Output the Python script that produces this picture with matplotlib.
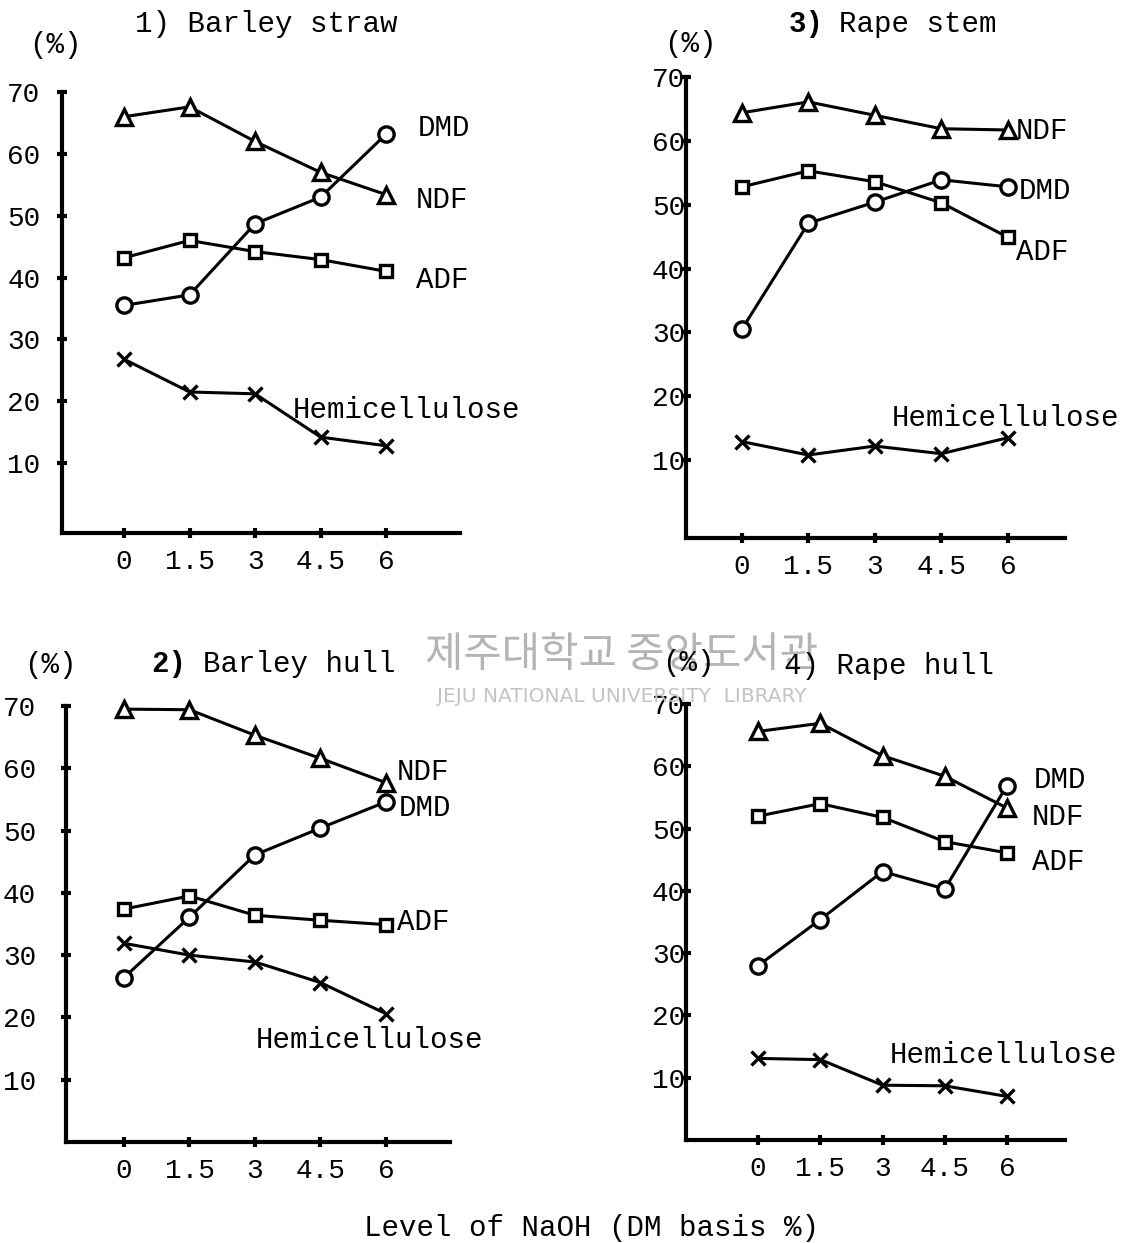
import matplotlib
matplotlib.use("Agg")
import matplotlib.pyplot as plt

# NaOH levels (DM basis %)
naoh = [0, 1.5, 3, 4.5, 6]
naoh_labels = ['0', '1.5', '3', '4.5', '6']
y_ticks = [10, 20, 30, 40, 50, 60, 70]

# 1) Barley straw
bs_ndf = [66, 67.6, 62, 57, 53.4]
bs_dmd = [35.5, 37.2, 48.7, 53, 63.2]
bs_adf = [43.2, 46, 44.2, 42.9, 41]
bs_hemi = [26.8, 21.5, 21.2, 14.2, 12.8]

# 3) Rape stem
rs_ndf = [64.4, 66.1, 64, 61.9, 61.7]
rs_dmd = [30.5, 47.1, 50.4, 53.9, 52.8]
rs_adf = [52.8, 55.3, 53.6, 50.3, 44.9]
rs_hemi = [12.9, 10.8, 12.2, 11, 13.5]

# 2) Barley hull
bh_ndf = [69.5, 69.4, 65.3, 61.6, 57.7]
bh_dmd = [26.4, 36.1, 46.1, 50.4, 54.6]
bh_adf = [37.4, 39.5, 36.4, 35.6, 34.9]
bh_hemi = [31.9, 30, 28.9, 25.6, 20.6]

# 4) Rape hull
rh_ndf = [65.6, 66.9, 61.7, 58.4, 53.3]
rh_dmd = [28, 35.4, 43.1, 40.3, 56.9]
rh_adf = [52, 54, 51.8, 47.9, 46.1]
rh_hemi = [13.1, 12.9, 8.8, 8.7, 7]

W, H = 1128, 1243
FONT = 'Liberation Mono'
FS = 21

fig = plt.figure(figsize=(W / 100, H / 100), dpi=100)
fig.patch.set_facecolor('white')


def px_axes(left, right, top, bottom):
    return fig.add_axes([left / W, 1 - bottom / H, (right - left) / W, (bottom - top) / H])


def ftext(x, y, s, **kw):
    kw.setdefault('fontsize', FS)
    kw.setdefault('family', FONT)
    kw.setdefault('va', 'center')
    fig.text(x / W, 1 - y / H, s, **kw)


def panel(ax, ndf, dmd, adf, hemi, xlim, ylim, ypad):
    st = dict(color='black', lw=2.2, markeredgewidth=2.4,
              markerfacecolor='white', markeredgecolor='black', clip_on=False)
    ax.plot(naoh, ndf, marker='^', markersize=11, **st)
    ax.plot(naoh, adf, marker='s', markersize=9, **st)
    ax.plot(naoh, dmd, marker='o', markersize=11, **st)
    ax.plot(naoh, hemi, marker='x', markersize=10, **st)
    ax.set_xlim(*xlim)
    ax.set_ylim(*ylim)
    ax.set_xticks(naoh)
    ax.set_xticklabels(naoh_labels)
    ax.set_yticks(y_ticks)
    ax.spines['top'].set_visible(False)
    ax.spines['right'].set_visible(False)
    ax.spines['left'].set_linewidth(3)
    ax.spines['bottom'].set_linewidth(3)
    ax.tick_params(axis='both', direction='inout', length=7, width=3,
                   labelsize=FS - 1)
    ax.tick_params(axis='y', pad=ypad)
    ax.tick_params(axis='x', pad=8)
    for lab in ax.get_xticklabels() + ax.get_yticklabels():
        lab.set_family(FONT)
    ax.patch.set_alpha(0)


ax1 = px_axes(62, 460, 92, 533)
panel(ax1, bs_ndf, bs_dmd, bs_adf, bs_hemi, (-1.42, 7.69), (-1.3, 70), 12)
ax3 = px_axes(686, 1065, 77, 538)
panel(ax3, rs_ndf, rs_dmd, rs_adf, rs_hemi, (-1.26, 7.29), (-2.2, 70), -3)
ax2 = px_axes(66, 450, 706, 1142)
panel(ax2, bh_ndf, bh_dmd, bh_adf, bh_hemi, (-1.33, 7.47), (0, 70), 18)
ax4 = px_axes(686, 1065, 704, 1140)
panel(ax4, rh_ndf, rh_dmd, rh_adf, rh_hemi, (-1.74, 7.4), (0, 70), -3)

# watermark of the library scan
ftext(622, 656, '제주대학교 중앙도서관', family=['Noto Sans CJK KR', 'DejaVu Sans'],
      fontsize=30, color='#b4b4b4', ha='center', zorder=0)
ftext(622, 697, 'JEJU NATIONAL UNIVERSITY  LIBRARY', family='DejaVu Sans',
      fontsize=14.5, color='#c4c4c4', ha='center', zorder=0)

# titles and unit labels
ftext(135, 24, '1) Barley straw', ha='left')
ftext(789, 24, '3)', ha='left', fontweight='bold')
ftext(839, 24, 'Rape stem', ha='left')
ftext(151, 664, '2)', ha='left', fontweight='bold')
ftext(203, 664, 'Barley hull', ha='left')
ftext(784, 666, '4) Rape hull', ha='left')
ftext(55, 45, '(%)', ha='center')
ftext(690, 44, '(%)', ha='center')
ftext(50, 665, '(%)', ha='center')
ftext(688, 663, '(%)', ha='center')

# series labels
ftext(418, 128, 'DMD')
ftext(416, 200, 'NDF')
ftext(416, 280, 'ADF')
ftext(293, 410, 'Hemicellulose')

ftext(1016, 131, 'NDF')
ftext(1019, 191, 'DMD')
ftext(1016, 252, 'ADF')
ftext(892, 418, 'Hemicellulose')

ftext(397, 772, 'NDF')
ftext(399, 808, 'DMD')
ftext(397, 922, 'ADF')
ftext(256, 1040, 'Hemicellulose')

ftext(1034, 780, 'DMD')
ftext(1032, 817, 'NDF')
ftext(1032, 862, 'ADF')
ftext(890, 1055, 'Hemicellulose')

ftext(591, 1228, 'Level of NaOH (DM basis %)', ha='center')

fig.savefig('out.png', dpi=100)
